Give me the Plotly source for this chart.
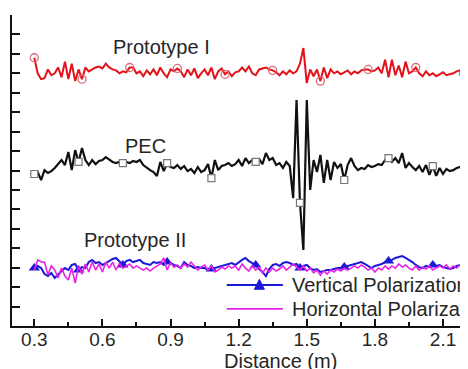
import plotly.graph_objects as go

n_points = 128
distance = [round(0.30 + 0.015 * i, 3) for i in range(n_points)]

prototype_i = [
    13.8, 13.0, 12.7, 12.75, 13.2, 12.9, 13.0, 13.3, 12.8, 13.6,
    12.7, 13.5, 12.6, 13.2, 12.7, 13.3, 13.1, 13.2, 13.3, 13.35,
    13.25, 13.5, 13.3, 13.2, 13.15, 13.0, 13.1, 13.05, 13.3, 13.3,
    13.0, 13.1, 12.85, 13.15, 12.95, 13.2, 12.9, 13.3, 13.0, 12.8,
    13.2, 13.1, 13.25, 13.1, 12.8, 13.2, 12.9, 13.25, 12.75, 13.0,
    13.2, 12.9, 13.3, 12.7, 13.1, 13.25, 12.95, 13.1, 12.85, 13.05,
    13.1, 13.3, 13.1, 13.35, 13.0, 12.9, 13.2, 13.25, 13.3, 13.2,
    13.15, 13.05, 12.9, 13.1, 12.95, 13.15, 13.0, 13.1, 13.5, 14.3,
    12.5, 13.2, 12.85, 13.2, 12.6, 13.3, 12.75, 13.2, 13.0, 13.1,
    12.95, 13.05, 13.15, 12.95, 13.1, 13.0, 13.15, 13.2, 13.2, 13.1,
    13.15, 13.3, 13.0, 13.7, 12.8, 13.7, 12.9, 13.4, 12.8, 13.6,
    13.0, 13.1, 13.3, 13.0, 12.85, 13.1, 12.9, 13.0, 12.85, 12.95,
    13.05, 12.9, 12.95, 13.0, 13.1, 13.15, 13.0, 12.8,
]

pec = [
    7.82, 7.92, 7.51, 8.02, 7.87, 7.97, 8.13, 8.33, 8.54, 8.28,
    8.95, 8.02, 9.05, 8.44, 9.16, 8.54, 8.28, 8.54, 8.33, 8.49,
    8.54, 8.69, 8.54, 8.44, 8.38, 8.44, 8.38, 8.44, 8.38, 8.49,
    8.44, 8.54, 8.28, 8.13, 8.02, 7.92, 7.72, 8.44, 7.97, 8.38,
    8.18, 8.13, 8.28, 8.08, 8.23, 7.97, 8.08, 7.87, 8.18, 7.92,
    8.02, 8.33, 7.61, 8.54, 8.02, 8.23, 8.28, 8.38, 8.23, 8.33,
    8.54, 8.23, 8.64, 8.38, 8.54, 8.44, 8.59, 8.33, 8.90, 8.54,
    8.64, 8.28, 8.38, 8.13, 8.44, 8.23, 6.58, 11.63, 6.33, 3.91,
    11.63, 7.0, 8.54, 7.92, 8.80, 7.36, 8.54, 7.51, 8.44, 8.13,
    8.33, 7.51, 8.28, 8.64, 8.23, 8.02, 8.13, 8.08, 8.28, 8.18,
    8.23, 8.33, 8.28, 8.54, 8.64, 8.44, 8.64, 8.38, 8.90, 8.13,
    8.38, 8.18, 8.02, 8.23, 7.92, 8.28, 7.77, 8.23, 7.72, 8.13,
    7.82, 8.08, 7.97, 8.02, 8.13, 8.18, 8.23, 8.28,
]

vertical_pol = [
    2.98, 3.09, 2.98, 2.67, 2.57, 2.73, 2.47, 2.67, 2.83, 2.98,
    2.88, 3.14, 3.19, 2.88, 3.03, 2.98, 3.29, 3.40, 3.24, 3.29,
    3.14, 3.24, 3.34, 3.45, 3.50, 3.29, 3.14, 3.34, 3.40, 3.29,
    3.34, 3.40, 3.24, 3.19, 3.14, 3.29, 3.24, 3.29, 3.14, 3.29,
    3.24, 3.14, 3.09, 2.98, 3.29, 3.14, 3.09, 2.98, 3.03, 2.98,
    2.98, 2.88, 2.93, 2.98, 3.03, 3.09, 3.14, 3.19, 3.24, 3.14,
    3.29, 3.40, 3.50, 3.34, 3.24, 3.14, 2.93, 2.78, 2.57, 2.93,
    3.14, 3.19, 3.09, 3.24, 3.29, 3.24, 3.14, 3.19, 2.98, 3.09,
    3.14, 2.98, 2.88, 2.93, 2.78, 2.83, 2.88, 2.88, 2.93, 2.98,
    2.98, 3.03, 3.09, 3.14, 3.19, 3.24, 3.29, 3.19, 3.09, 2.98,
    3.09, 3.14, 3.19, 3.29, 3.34, 3.40, 3.50, 3.55, 3.60, 3.50,
    3.40, 3.29, 3.14, 3.03, 2.98, 3.09, 3.03, 3.14, 3.09, 3.14,
    3.03, 2.98, 2.93, 2.98, 3.09, 3.14, 3.09, 3.03,
]

horizontal_pol = [
    2.88, 3.40, 3.29, 3.29, 2.62, 3.09, 2.88, 2.47, 2.98, 2.57,
    2.37, 2.98, 2.21, 3.09, 2.67, 3.19, 2.78, 3.29, 2.88, 3.19,
    2.78, 3.29, 2.98, 3.29, 2.88, 3.24, 2.98, 3.09, 3.19, 2.98,
    3.09, 2.98, 2.88, 2.98, 2.83, 2.98, 3.09, 3.19, 3.50, 2.88,
    3.24, 3.03, 3.14, 2.98, 3.19, 3.03, 3.29, 3.09, 2.88, 3.03,
    3.14, 2.88, 3.09, 2.78, 2.88, 3.03, 2.93, 3.09, 2.98, 3.09,
    2.88, 3.19, 2.98, 2.83, 3.09, 2.88, 3.03, 2.73, 2.98, 2.78,
    2.98, 2.83, 2.93, 3.09, 2.88, 3.03, 3.19, 3.03, 2.88, 3.09,
    2.83, 2.98, 2.73, 2.88, 2.62, 2.83, 2.67, 2.88, 2.78, 2.93,
    2.83, 2.98, 2.88, 2.98, 3.09, 2.98, 3.14, 3.03, 2.88, 2.98,
    2.78, 2.98, 2.88, 3.09, 2.93, 3.09, 2.98, 3.19, 3.03, 3.14,
    2.98, 2.88, 3.09, 2.88, 3.03, 2.93, 3.09, 2.88, 2.98, 3.09,
    2.98, 3.14, 2.93, 3.09, 2.98, 3.14, 3.03, 2.93,
]

series_labels = ["Prototype I", "PEC", "Prototype II"]
legend_labels = ["Vertical Polarization", "Horizontal Polarization"]
x_title = "Distance (m)"
x_tick_values = [0.3, 0.6, 0.9, 1.2, 1.5, 1.8, 2.1]
x_tick_labels = ["0.3", "0.6", "0.9", "1.2", "1.5", "1.8", "2.1"]

RED = "#e3121a"
BLUE = "#1a1ad6"
MAGENTA = "#e822e8"
FONT = "Liberation Sans, Arial, sans-serif"
TXT = "#262626"

fig = go.Figure()

fig.add_trace(go.Scatter(x=distance, y=prototype_i, mode="lines",
                         line=dict(color=RED, width=2), showlegend=False))
fig.add_trace(go.Scatter(x=distance[::14], y=prototype_i[::14], mode="markers",
                         marker=dict(symbol="circle-open", size=8, color="#d86a78",
                                     line=dict(width=1.3)), showlegend=False))

fig.add_trace(go.Scatter(x=distance, y=pec, mode="lines",
                         line=dict(color="#111111", width=2.2), showlegend=False))
fig.add_trace(go.Scatter(x=distance[::13], y=pec[::13], mode="markers",
                         marker=dict(symbol="square", size=7, color="white",
                                     line=dict(width=1.2, color="#777777")),
                         showlegend=False))

fig.add_trace(go.Scatter(x=distance, y=vertical_pol, mode="lines",
                         line=dict(color=BLUE, width=2), showlegend=False))
fig.add_trace(go.Scatter(x=distance[::13], y=vertical_pol[::13], mode="markers",
                         marker=dict(symbol="triangle-up", size=10, color=BLUE),
                         showlegend=False))
fig.add_trace(go.Scatter(x=distance, y=horizontal_pol, mode="lines",
                         line=dict(color=MAGENTA, width=1.6), showlegend=False))

label_pos = [(0.858, 14.35), (0.788, 9.26), (0.743, 4.42)]
for txt, (lx, ly) in zip(series_labels, label_pos):
    fig.add_annotation(x=lx, y=ly, xref="x", yref="y", text=txt, showarrow=False,
                       font=dict(family=FONT, size=20, color=TXT),
                       xanchor="center", yanchor="middle")

# manual legend (plot area: 456 px wide, 311 px tall)
leg_y = [0.132, 0.055]
leg_col = [BLUE, MAGENTA]
for lab, ly, col in zip(legend_labels, leg_y, leg_col):
    fig.add_shape(type="line", xref="paper", yref="paper",
                  x0=0.471, x1=0.594, y0=ly, y1=ly,
                  line=dict(color=col, width=2 if col == BLUE else 1.6))
    fig.add_annotation(x=0.610, y=ly, xref="paper", yref="paper", text=lab,
                       showarrow=False, xanchor="left", yanchor="middle",
                       font=dict(family=FONT, size=20, color=TXT))
fig.add_shape(type="path", xref="paper", yref="paper",
              path="M 0.5315 0.118 L 0.5535 0.118 L 0.5425 0.150 Z",
              fillcolor=BLUE, line=dict(color=BLUE, width=1))

# x-axis title (centred on the full, uncropped axis)
fig.add_annotation(x=0.588, y=-0.111, xref="paper", yref="paper", text=x_title,
                   showarrow=False, xanchor="center", yanchor="middle",
                   font=dict(family=FONT, size=20, color=TXT))

# page body adds an 8px offset, so the figure is 8px smaller on each axis
fig.update_layout(
    width=460, height=361,
    margin=dict(l=4, r=0, t=7, b=43, autoexpand=False),
    paper_bgcolor="white", plot_bgcolor="white",
    font=dict(family=FONT, size=20, color=TXT),
    showlegend=False,
)
fig.update_xaxes(
    automargin=False,
    range=[0.2018, 2.210], tickmode="array", tickvals=x_tick_values,
    ticktext=x_tick_labels, ticks="inside", ticklen=7, tickwidth=2,
    tickcolor="#111", showline=True, linecolor="#111", linewidth=2,
    showgrid=False, zeroline=False, ticklabelstandoff=-5,
    tickfont=dict(family=FONT, size=19, color=TXT),
    minor=dict(ticks="inside", ticklen=4, tickwidth=2, dtick=0.15, tick0=0.15,
               tickcolor="#111", showgrid=False),
)
fig.update_yaxes(
    automargin=False,
    range=[0, 16], dtick=1, tick0=0, ticks="inside", ticklen=8, tickwidth=1.5,
    tickcolor="#111", showline=True, linecolor="#111", linewidth=2,
    showgrid=False, zeroline=False, showticklabels=False,
)

fig.write_html("out.html")
